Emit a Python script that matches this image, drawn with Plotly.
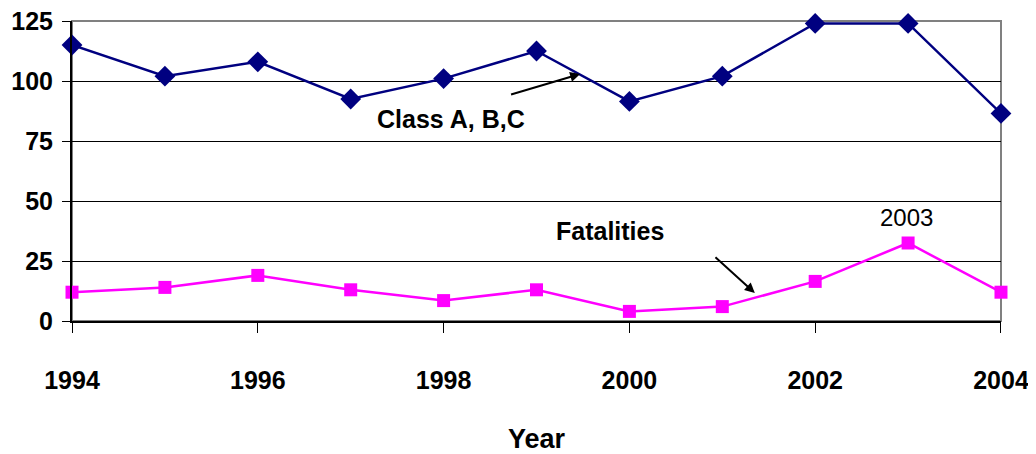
import plotly.graph_objects as go

# --- data
years = [1994, 1995, 1996, 1997, 1998, 1999, 2000, 2001, 2002, 2003, 2004]
class_abc = [115, 102, 108, 92.5, 101, 112.5, 91.5, 102, 124, 124, 86.5]
fatalities = [12, 14, 19, 13, 8.5, 13, 4, 6, 16.5, 32.5, 12]

x_ticks = [1994, 1996, 1998, 2000, 2002, 2004]
y_ticks = [0, 25, 50, 75, 100, 125]

FONT = "Liberation Sans Narrow, Liberation Sans, Arial, sans-serif"

fig = go.Figure()
fig.add_trace(go.Scatter(
    x=years, y=class_abc, mode="lines+markers", name="Class A, B,C",
    line=dict(color="#000080", width=2.5),
    marker=dict(symbol="diamond", size=16, color="#000080"),
    cliponaxis=False))
fig.add_trace(go.Scatter(
    x=years, y=fatalities, mode="lines+markers", name="Fatalities",
    line=dict(color="#FF00FF", width=2.5),
    marker=dict(symbol="square", size=13, color="#FF00FF"),
    cliponaxis=False))

# --- plot frame (gray top/right like the original)
fig.add_shape(type="rect", xref="paper", yref="paper", x0=0, y0=0, x1=1, y1=1,
              line=dict(color="#808080", width=2), layer="below")

# --- labels and arrows
fig.add_annotation(x=1999.47, y=102.9, ax=1998.71, ay=94.2, axref="x", ayref="y",
                   text="", showarrow=True, arrowhead=2, arrowsize=1,
                   arrowwidth=2, arrowcolor="black")
fig.add_annotation(x=2001.35, y=11.7, ax=2000.91, ay=27.1, axref="x", ayref="y",
                   text="", showarrow=True, arrowhead=2, arrowsize=1,
                   arrowwidth=2, arrowcolor="black")
fig.add_annotation(x=1998.08, y=84.2, text="<b>Class A, B,C</b>", showarrow=False,
                   font=dict(family=FONT, size=25, color="black"))
fig.add_annotation(x=1999.79, y=37.5, text="<b>Fatalities</b>", showarrow=False,
                   font=dict(family=FONT, size=25, color="black"))
fig.add_annotation(x=2002.98, y=43.3, text="2003", showarrow=False,
                   font=dict(family=FONT, size=24, color="black"))

# page body adds an 8px offset, margins compensate for it
fig.update_layout(
    width=1036, height=454, showlegend=False,
    plot_bgcolor="white", paper_bgcolor="white",
    margin=dict(l=64, r=43, t=13, b=141),
    font=dict(family=FONT, color="black"))
fig.update_xaxes(range=[1993.9999, 2004.0001], tickvals=x_ticks,
                 ticktext=[f"<b>{v}</b>" for v in x_ticks],
                 tickfont=dict(size=25), ticks="outside", ticklen=10,
                 tickcolor="black", showline=True, linecolor="black",
                 linewidth=2, showgrid=False, zeroline=False, automargin=False,
                 ticklabelstandoff=26, ticklabeloverflow="allow",
                 title=dict(text="<b>Year</b>", font=dict(size=27), standoff=36))
fig.update_yaxes(range=[-0.0001, 125.0001], tickvals=y_ticks,
                 ticktext=[f"<b>{v}</b>" for v in y_ticks],
                 tickfont=dict(size=25), ticks="outside", ticklen=8,
                 tickcolor="black", showline=True, linecolor="black",
                 linewidth=2, showgrid=True, gridcolor="black", gridwidth=1,
                 zeroline=False, automargin=False, ticklabelstandoff=4,
                 ticklabeloverflow="allow")

fig.write_html("out.html")
